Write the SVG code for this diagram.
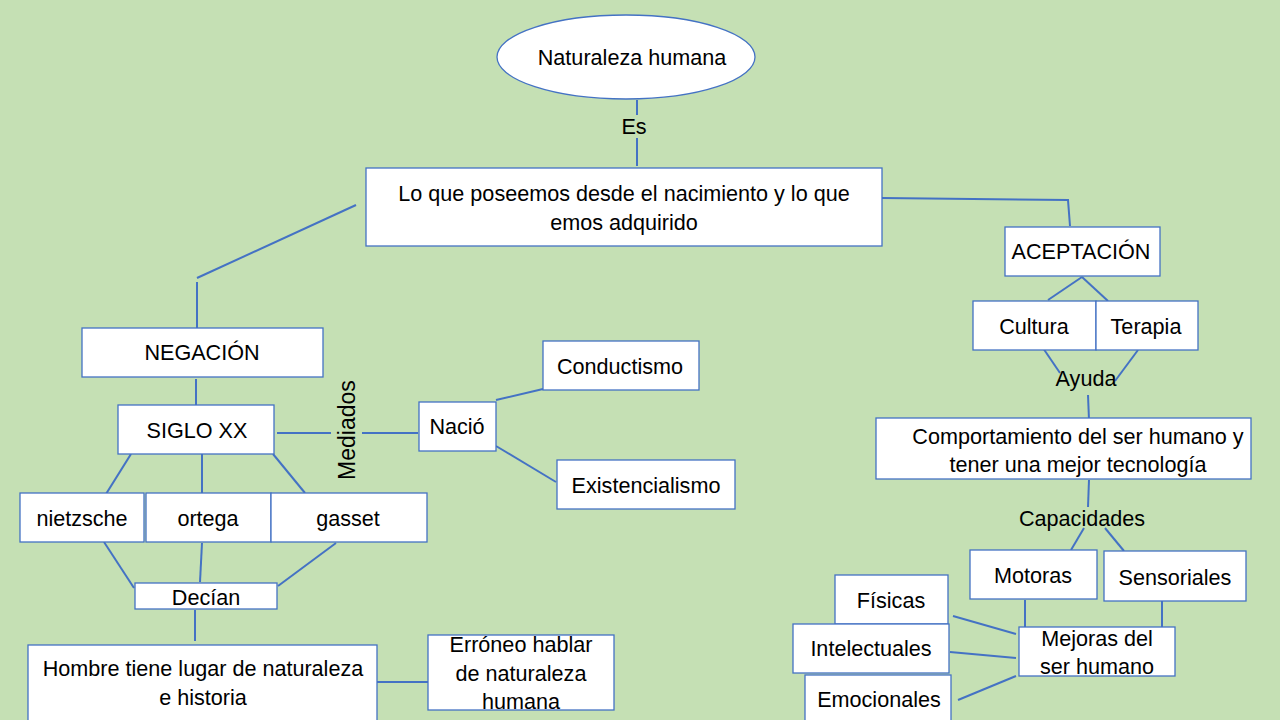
<svg xmlns="http://www.w3.org/2000/svg" width="1280" height="720" viewBox="0 0 1280 720">
<style>
.n{fill:#fff;stroke:#4472c4;stroke-width:1.3}
.c{stroke:#4472c4;stroke-width:2;fill:none}
text{font-family:"Liberation Sans",Arial,sans-serif;font-size:21.6px;fill:#000;text-anchor:middle;dominant-baseline:central}
</style>
<rect width="1280" height="720" fill="#c5e0b4"/>
<g id="connectors">
<line class="c" x1="637" y1="100" x2="637" y2="115"/>
<line class="c" x1="637" y1="138" x2="637" y2="166"/>
<polyline class="c" points="356,205 197,278"/>
<line class="c" x1="197" y1="282" x2="197" y2="328"/>
<polyline class="c" points="882,198 1068,200 1070,226"/>
<line class="c" x1="196" y1="379" x2="196" y2="405"/>
<line class="c" x1="277" y1="433" x2="331" y2="433"/>
<line class="c" x1="362" y1="433" x2="418" y2="433"/>
<line class="c" x1="496" y1="400" x2="543" y2="389"/>
<line class="c" x1="496" y1="446" x2="556" y2="482"/>
<line class="c" x1="131" y1="454" x2="106" y2="494"/>
<line class="c" x1="202" y1="454" x2="202" y2="493"/>
<line class="c" x1="273" y1="454" x2="305" y2="493"/>
<line class="c" x1="104" y1="542" x2="134" y2="588"/>
<line class="c" x1="202" y1="543" x2="200" y2="582"/>
<line class="c" x1="336" y1="543" x2="278" y2="586"/>
<line class="c" x1="195" y1="610" x2="195" y2="641"/>
<line class="c" x1="377" y1="682" x2="428" y2="682"/>
<line class="c" x1="1082" y1="277" x2="1048" y2="300"/>
<line class="c" x1="1082" y1="277" x2="1108" y2="301"/>
<line class="c" x1="1043" y1="348" x2="1060" y2="373"/>
<line class="c" x1="1138" y1="350" x2="1115" y2="381"/>
<line class="c" x1="1088" y1="395" x2="1089" y2="420"/>
<line class="c" x1="1089" y1="480" x2="1088" y2="507"/>
<line class="c" x1="1084" y1="528" x2="1071" y2="550"/>
<line class="c" x1="1105" y1="528" x2="1124" y2="551"/>
<line class="c" x1="1025" y1="600" x2="1025" y2="627"/>
<line class="c" x1="1162" y1="601" x2="1162" y2="628"/>
<line class="c" x1="953" y1="616" x2="1016" y2="634"/>
<line class="c" x1="950" y1="652" x2="1016" y2="658"/>
<line class="c" x1="958" y1="700" x2="1016" y2="676"/>
</g>
<g id="lbl-es"><text x="634" y="126">Es</text></g>
<g id="lbl-mediados"><text x="347" y="430" transform="rotate(-90 347 430)" style="font-size:23px">Mediados</text></g>
<g id="lbl-ayuda"><text x="1086" y="378">Ayuda</text></g>
<g id="lbl-capacidades"><text x="1082" y="518">Capacidades</text></g>
<g id="naturaleza"><ellipse class="n" cx="626" cy="57" rx="129" ry="42"/><text x="632" y="57">Naturaleza humana</text></g>
<g id="loque"><rect class="n" x="366" y="168" width="516" height="78"/><text x="624" y="193">Lo que poseemos desde el nacimiento y lo que</text><text x="624" y="222">emos adquirido</text></g>
<g id="negacion"><rect class="n" x="82" y="328" width="241" height="49"/><text x="202" y="352">NEGACIÓN</text></g>
<g id="siglo"><rect class="n" x="118" y="405" width="156" height="49"/><text x="197" y="430">SIGLO XX</text></g>
<g id="nacio"><rect class="n" x="419" y="402" width="77" height="49"/><text x="457" y="426">Nació</text></g>
<g id="conductismo"><rect class="n" x="543" y="341" width="156" height="49"/><text x="620" y="366">Conductismo</text></g>
<g id="existencialismo"><rect class="n" x="557" y="460" width="178" height="49"/><text x="646" y="485">Existencialismo</text></g>
<g id="nietzsche"><rect class="n" x="20" y="493" width="124" height="49"/><text x="82" y="518">nietzsche</text></g>
<g id="ortega"><rect class="n" x="146" y="493" width="125" height="49"/><text x="208" y="518">ortega</text></g>
<g id="gasset"><rect class="n" x="271" y="493" width="156" height="49"/><text x="348" y="518">gasset</text></g>
<g id="decian"><rect class="n" x="135" y="583" width="142" height="26"/><text x="206" y="597">Decían</text></g>
<g id="hombre"><rect class="n" x="28" y="645" width="349" height="80"/><text x="203" y="668">Hombre tiene lugar de naturaleza</text><text x="203" y="697">e historia</text></g>
<g id="erroneo"><rect class="n" x="428" y="635" width="186" height="75"/><text x="521" y="644">Erróneo hablar</text><text x="521" y="673">de naturaleza</text><text x="521" y="701">humana</text></g>
<g id="aceptacion"><rect class="n" x="1005" y="227" width="155" height="49"/><text x="1081" y="251">ACEPTACIÓN</text></g>
<g id="cultura"><rect class="n" x="973" y="301" width="123" height="49"/><text x="1034" y="326">Cultura</text></g>
<g id="terapia"><rect class="n" x="1096" y="301" width="102" height="49"/><text x="1146" y="326">Terapia</text></g>
<g id="comportamiento"><rect class="n" x="876" y="418" width="375" height="61"/><text x="1078" y="436">Comportamiento del ser humano y</text><text x="1078" y="464">tener una mejor tecnología</text></g>
<g id="motoras"><rect class="n" x="970" y="550" width="127" height="49"/><text x="1033" y="575">Motoras</text></g>
<g id="sensoriales"><rect class="n" x="1104" y="551" width="142" height="50"/><text x="1175" y="577">Sensoriales</text></g>
<g id="fisicas"><rect class="n" x="835" y="575" width="113" height="49"/><text x="891" y="600">Físicas</text></g>
<g id="intelectuales"><rect class="n" x="793" y="624" width="156" height="49"/><text x="871" y="648">Intelectuales</text></g>
<g id="emocionales"><rect class="n" x="805" y="675" width="146" height="50"/><text x="879" y="699">Emocionales</text></g>
<g id="mejoras"><rect class="n" x="1019" y="627" width="156" height="49"/><text x="1097" y="638">Mejoras del</text><text x="1097" y="666">ser humano</text></g>
</svg>
